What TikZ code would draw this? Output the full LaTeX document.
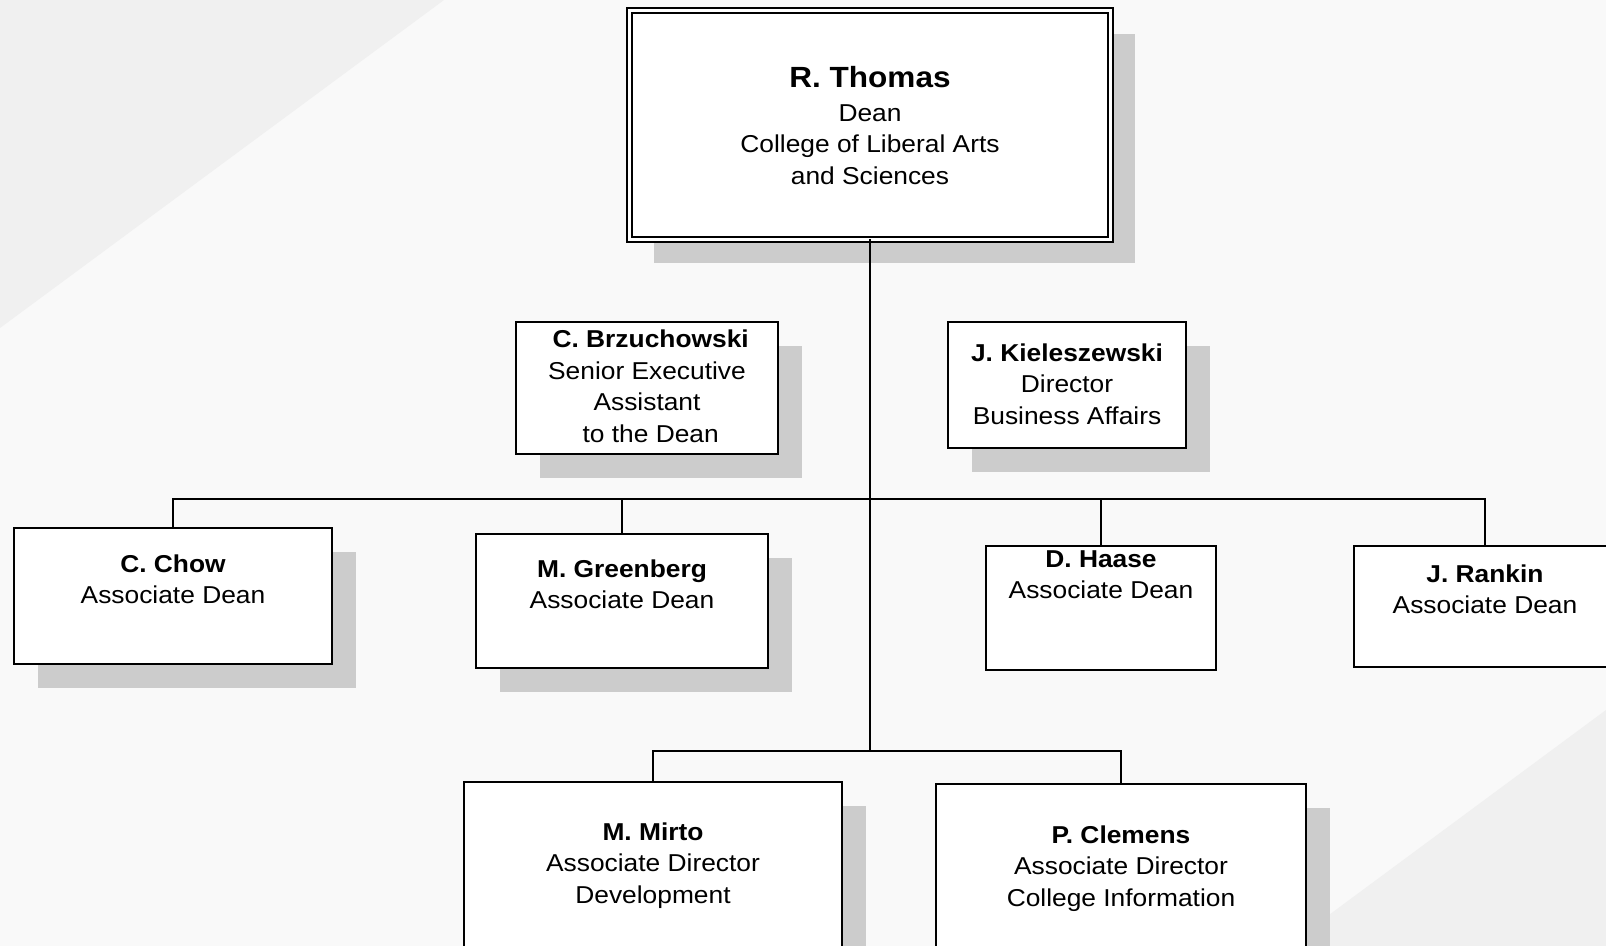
\documentclass[tikz,border=0pt]{standalone}
\usepackage{fontspec}
\setmainfont[FakeStretch=1.08]{Liberation Sans}
\usetikzlibrary{
    positioning,
    shadows
}
\definecolor{paper}{HTML}{F9F9F9}
\definecolor{corner}{HTML}{F0F0F0}
\definecolor{shadowgray}{HTML}{CCCCCC}
\def\boxfont{\fontsize{12.2}{15.8}\selectfont}
\tikzset{
    base/.style={
        draw,
        fill=white,
        line width=1pt,
        inner sep=0pt,
        outer sep=0pt,
    },
    shaded/.style={
        base,
        drop shadow={shadow xshift=12pt, shadow yshift=-12pt,
                     fill=shadowgray, opacity=1},
    },
    deanbox/.style={
        shaded,
        double,
        double distance=1.5pt,
    },
    info/.style={
        align=center,
        inner sep=0pt,
        font=\boxfont,
    },
    link/.style={
        line width=1pt,
    },
}

\begin{document}
\begin{tikzpicture}[x=0.5pt, y=-0.5pt]
    \useasboundingbox (0,0) rectangle (1606,946);
    % background
    \fill [paper] (0,0) rectangle (1606,946);
    \fill [corner] (0,0) -- (444,0) -- (0,328) -- cycle;
    \fill [corner] (1606,710) -- (1287,946) -- (1606,946) -- cycle;

    % boxes
    \node (dean) [deanbox, minimum width=240.5pt, minimum height=114.5pt] at (870,125) {};
    \node (brz) [shaded, minimum width=131pt, minimum height=66pt] at (647,388) {};
    \node (kiel) [shaded, minimum width=119pt, minimum height=63pt] at (1067,385) {};
    \node (chow) [shaded, minimum width=159pt, minimum height=68pt] at (173,596) {};
    \node (green) [shaded, minimum width=146pt, minimum height=67pt] at (622,601) {};
    \node (haase) [base, minimum width=115pt, minimum height=62pt] at (1101,608) {};
    \node (rankin) [base, minimum width=131pt, minimum height=60.5pt] at (1485,606.5) {};
    \node (mirto) [shaded, minimum width=189pt, minimum height=100pt] at (653,882) {};
    \node (clemens) [shaded, minimum width=185pt, minimum height=100pt] at (1121,884) {};

    % texts
    \node (dean-t) [info, below=27.2pt of dean.north] {\strut{\fontsize{14.6}{17}\selectfont\bfseries R. Thomas}\\[1pt]
        Dean\\College of Liberal Arts\\and Sciences};
    \node (brz-t) [info, below=1.45pt of brz.north] {\strut\ \textbf{C. Brzuchowski}\\
        Senior Executive\\Assistant\\\ to the Dean};
    \node (kiel-t) [info, below=8.4pt of kiel.north] {\strut\textbf{J. Kieleszewski}\\
        Director\\Business Affairs};
    \node (chow-t) [info, below=10.9pt of chow.north] {\strut\textbf{C. Chow}\\Associate Dean};
    \node (green-t) [info, below=10.4pt of green.north] {\strut\textbf{M. Greenberg}\\Associate Dean};
    \node (haase-t) [info, below=-0.6pt of haase.north] {\strut\textbf{D. Haase}\\Associate Dean};
    \node (rankin-t) [info, below=6.9pt of rankin.north] {\strut\textbf{J. Rankin}\\Associate Dean};
    \node (mirto-t) [info, below=17.9pt of mirto.north] {\strut\textbf{M. Mirto}\\
        Associate Director\\Development};
    \node (clemens-t) [info, below=18.4pt of clemens.north] {\strut\textbf{P. Clemens}\\
        Associate Director\\College Information};

    % lines
    \coordinate (bus) at (870,499);
    \coordinate (fork) at (870,751);
    \draw [link] (dean.south) -- (fork);
    \draw [link] (chow.north) |- (bus) -| (rankin.north);
    \draw [link] (green.north) -- (green.north |- bus);
    \draw [link] (haase.north) -- (haase.north |- bus);
    \draw [link] (mirto.north) |- (fork) -| (clemens.north);
\end{tikzpicture}
\end{document}
